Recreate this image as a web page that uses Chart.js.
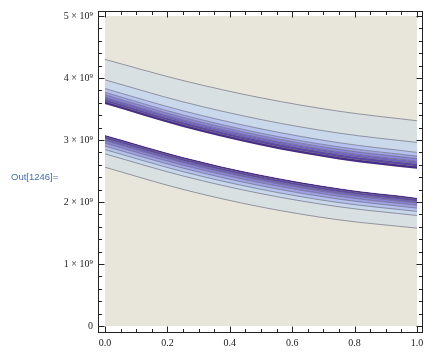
<!DOCTYPE html>
<html>
<head>
<meta charset="utf-8">
<script src="https://cdn.jsdelivr.net/npm/chart.js@4"></script>
<style>
  body { margin: 0; background: #fff; }
  #wrap { position: relative; width: 444px; height: 353px; }
  #out { position: absolute; left: 11px; top: 171px; font: 9.5px 'Liberation Sans', Arial, sans-serif; color: #3f6fb4; line-height: 12px; }
</style>
</head>
<body>
<div id="wrap">
  <canvas id="chart" width="444" height="353"></canvas>
  <div id="out">Out[1246]=</div>
</div>
<script>
// sample positions along x
const xs = [0, 0.25, 0.5, 0.75, 1];

// contour lines above the gap, outer line first (units of 10^9)
const upperLines = [
  [4.30, 3.959, 3.68, 3.464, 3.31],
  [3.97, 3.616, 3.33, 3.111, 2.96],
  [3.83, 3.471, 3.18, 2.956, 2.80],
  [3.77, 3.404, 3.11, 2.889, 2.74],
  [3.73, 3.364, 3.07, 2.849, 2.70],
  [3.69, 3.324, 3.03, 2.807, 2.655],
  [3.655, 3.286, 2.99, 2.766, 2.615],
  [3.62, 3.248, 2.95, 2.726, 2.575],
  [3.58, 3.208, 2.91, 2.686, 2.535]
];

// contour lines below the gap, gap edge first
const lowerLines = [
  [3.08, 2.726, 2.44, 2.221, 2.07],
  [3.053, 2.699, 2.413, 2.195, 2.044],
  [3.021, 2.667, 2.381, 2.163, 2.014],
  [2.989, 2.635, 2.349, 2.132, 1.984],
  [2.949, 2.594, 2.309, 2.093, 1.946],
  [2.901, 2.546, 2.261, 2.046, 1.901],
  [2.845, 2.489, 2.204, 1.990, 1.848],
  [2.776, 2.420, 2.135, 1.923, 1.782],
  [2.561, 2.203, 1.92, 1.712, 1.579]
];

// plot region
const regionX = [0, 1];
const regionTop = [5, 5];

const xTicks = [0, 0.2, 0.4, 0.6, 0.8, 1];
const yTicks = [0, 1, 2, 3, 4, 5];
const xMinorStep = 0.05;
const yMinorStep = 0.2;

// band colours, outer to inner
const bandColors = ['#d9e0e2', '#c9d8ea', '#b6c2ee', '#a0a2e6', '#8b84d8', '#7464c6', '#5d45ac', '#482a8a'];
const beige = '#e8e5da';
const lineColor = 'rgba(95,95,115,0.6)';
const frameColor = '#222';

const datasets = [];
upperLines.forEach((ys, i) => {
  const edge = i === upperLines.length - 1;
  datasets.push({
    data: xs.map((x, j) => ({ x: x, y: ys[j] })),
    borderColor: lineColor,
    borderWidth: edge ? 0 : 1,
    backgroundColor: i === 0 ? 'transparent' : bandColors[i - 1],
    fill: i === 0 ? false : i - 1
  });
});
const off = upperLines.length;
lowerLines.forEach((ys, i) => {
  datasets.push({
    data: xs.map((x, j) => ({ x: x, y: ys[j] })),
    borderColor: lineColor,
    borderWidth: i === 0 ? 0 : 1,
    backgroundColor: i === 0 ? '#fff' : bandColors[bandColors.length - i],
    fill: off + i - 1
  });
});
datasets.push({
  data: regionX.map((x, j) => ({ x: x, y: regionTop[j] })),
  borderWidth: 0,
  backgroundColor: beige,
  fill: 'origin',
  tension: 0
});

const frame = {
  id: 'frame',
  afterDraw(chart) {
    const { ctx, chartArea: a, scales } = chart;
    const sx = scales.x, sy = scales.y;
    ctx.save();
    ctx.strokeStyle = frameColor;
    ctx.lineWidth = 1;
    ctx.strokeRect(a.left + 0.5, a.top + 0.5, a.right - a.left - 1, a.bottom - a.top - 1);
    ctx.beginPath();
    const tick = (v, len, horiz) => {
      if (horiz) {
        const p = Math.round(sx.getPixelForValue(v)) + 0.5;
        ctx.moveTo(p, a.bottom - 0.5); ctx.lineTo(p, a.bottom - 0.5 - len);
        ctx.moveTo(p, a.top + 0.5); ctx.lineTo(p, a.top + 0.5 + len);
      } else {
        const p = Math.round(sy.getPixelForValue(v)) + 0.5;
        ctx.moveTo(a.left + 0.5, p); ctx.lineTo(a.left + 0.5 + len, p);
        ctx.moveTo(a.right - 0.5, p); ctx.lineTo(a.right - 0.5 - len, p);
      }
    };
    for (let v = 0; v <= 1.0001; v += xMinorStep) tick(v, 3.5, true);
    xTicks.forEach(v => tick(v, 6, true));
    for (let v = 0; v <= 5.0001; v += yMinorStep) tick(v, 3.5, false);
    yTicks.forEach(v => tick(v, 6, false));
    ctx.stroke();
    ctx.restore();
  }
};

const tickFont = { family: "'Liberation Serif', 'DejaVu Serif', serif", size: 10 };

new Chart(document.getElementById('chart'), {
  type: 'line',
  data: { datasets: datasets },
  options: {
    responsive: false,
    animation: false,
    devicePixelRatio: 1,
    layout: { padding: { left: 0, right: 21, top: 10, bottom: 0 } },
    elements: {
      point: { radius: 0 },
      line: { tension: 0.4, cubicInterpolationMode: 'monotone' }
    },
    plugins: {
      legend: { display: false },
      tooltip: { enabled: false },
      filler: { drawTime: 'beforeDatasetsDraw' }
    },
    scales: {
      x: {
        type: 'linear',
        min: -0.02244,
        max: 1.0192,
        grid: { display: false, drawTicks: false },
        border: { display: false },
        afterBuildTicks: s => { s.ticks = xTicks.map(v => ({ value: v })); },
        afterFit: s => { s.height = 20; },
        ticks: {
          padding: 4,
          color: '#222',
          font: tickFont,
          maxRotation: 0,
          callback: v => v.toFixed(1)
        }
      },
      y: {
        type: 'linear',
        min: -0.1125,
        max: 5.0804,
        grid: { display: false, drawTicks: false },
        border: { display: false },
        afterBuildTicks: s => { s.ticks = yTicks.map(v => ({ value: v })); },
        afterFit: s => { s.width = 98; },
        ticks: {
          padding: 5,
          color: '#222',
          font: tickFont,
          callback: v => v === 0 ? '0' : v + ' \u00d7 10\u2079'
        }
      }
    }
  },
  plugins: [frame]
});
</script>
</body>
</html>
